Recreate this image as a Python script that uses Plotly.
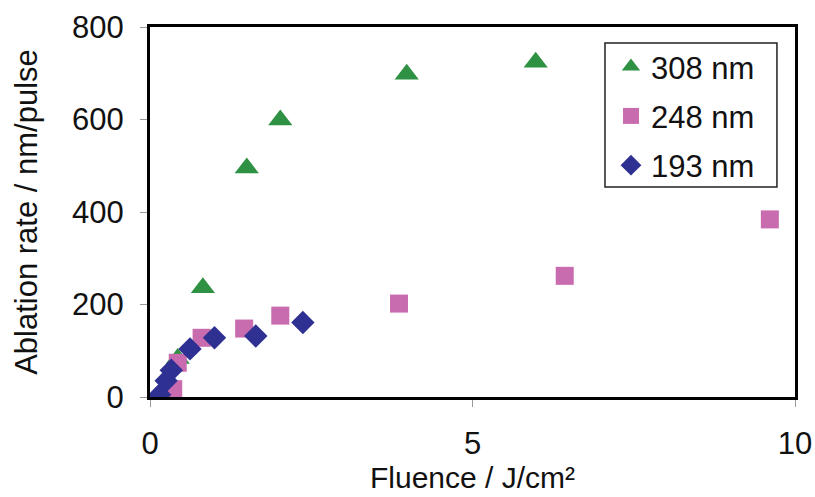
import plotly.graph_objects as go

# 308 nm
x308 = [0.43, 0.82, 1.50, 2.02, 3.98, 5.98]
y308 = [83, 236, 495, 599, 698, 724]
# 248 nm
x248 = [0.36, 0.43, 0.80, 1.46, 2.02, 3.86, 6.43, 9.61]
y248 = [17, 74, 128, 148, 176, 202, 262, 384]
# 193 nm
x193 = [0.15, 0.25, 0.33, 0.62, 1.00, 1.64, 2.37]
y193 = [5, 35, 58, 104, 128, 132, 161]

x_ticks = [0, 5, 10]
y_ticks = [0, 200, 400, 600, 800]

x_title = "Fluence / J/cm²"
y_title = "Ablation rate / nm/pulse"

FONT = "Liberation Sans, Arial, sans-serif"

fig = go.Figure()
fig.add_trace(go.Scatter(x=x308, y=y308, mode="markers", name="308 nm",
                         legendgroup="a",
                         marker=dict(symbol="triangle-up", size=21, color="#2F9143",
                                     line=dict(width=0))))
fig.add_trace(go.Scatter(x=x248, y=y248, mode="markers", name="248 nm",
                         legendgroup="b",
                         marker=dict(symbol="square", size=18, color="#C86BAF",
                                     line=dict(width=0))))
fig.add_trace(go.Scatter(x=x193, y=y193, mode="markers", name="193 nm",
                         legendgroup="c",
                         marker=dict(symbol="diamond", size=18, color="#2E3192",
                                     line=dict(width=0))))

# legend frame
fig.add_shape(type="rect", xref="paper", yref="paper",
              x0=0.7054, x1=0.972, y0=0.5676, y1=0.957,
              line=dict(color="#222", width=1.5), fillcolor="white", layer="below")

# x-axis title as annotation
fig.add_annotation(text=x_title, xref="paper", yref="paper", x=0.5, y=0,
                   xanchor="center", yanchor="top", yshift=-62, showarrow=False,
                   font=dict(family=FONT, size=30, color="#111"))

fig.update_layout(
    width=815, height=497,
    margin=dict(l=150, r=20, t=27, b=100),
    paper_bgcolor="white", plot_bgcolor="white",
    font=dict(family=FONT, size=31, color="#111"),
    showlegend=True,
    legend=dict(x=0.7147, y=0.965, xanchor="left", yanchor="top",
                bgcolor="rgba(0,0,0,0)", borderwidth=0,
                font=dict(size=31), tracegroupgap=6),
    xaxis=dict(range=[0, 10], tickvals=x_ticks, ticks="outside", ticklen=7,
               tickcolor="#999", showline=True, linecolor="black", linewidth=3,
               mirror=True, showgrid=False, zeroline=False, automargin=False,
               ticklabelstandoff=10, tickfont=dict(size=31)),
    yaxis=dict(range=[0, 800], tickvals=y_ticks, ticks="outside", ticklen=7,
               tickcolor="#999", showline=True, linecolor="black", linewidth=3,
               mirror=True, showgrid=False, zeroline=False, automargin=False,
               ticklabelstandoff=10,
               title=dict(text=y_title, font=dict(size=31), standoff=26),
               tickfont=dict(size=31)),
)

fig.write_html("out.html", config={"displayModeBar": False},
               post_script="document.body.style.margin='0px';document.body.style.overflow='hidden';")
